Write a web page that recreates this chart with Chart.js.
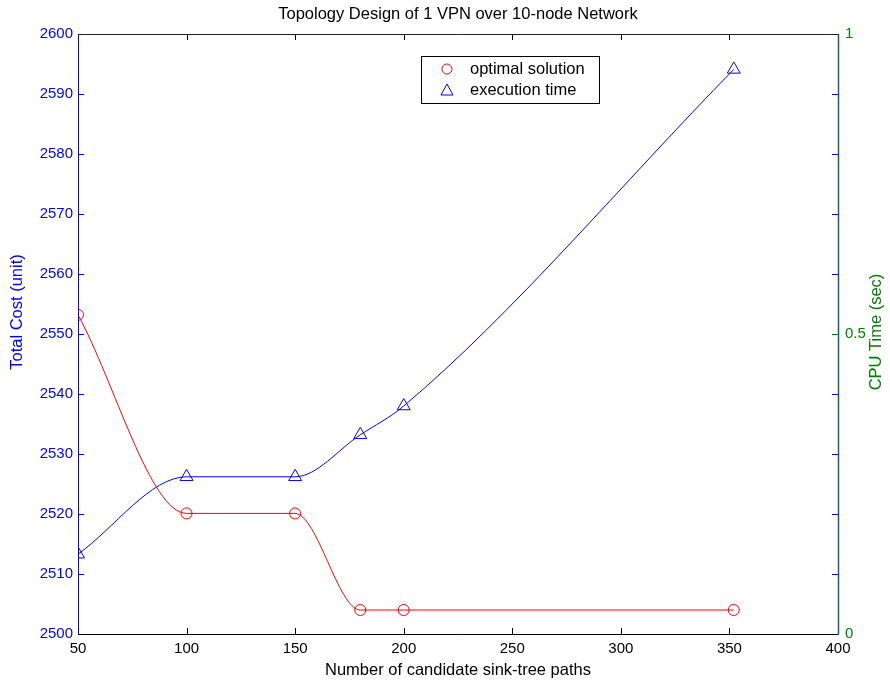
<!DOCTYPE html>
<html>
<head>
<meta charset="utf-8">
<script src="https://cdn.jsdelivr.net/npm/chart.js@4/dist/chart.umd.min.js"></script>
<style>
  html, body { margin: 0; padding: 0; background: #fff; }
  #wrap { width: 890px; height: 683px; }
</style>
</head>
<body>
<div id="wrap"><canvas id="c" width="890" height="683"></canvas></div>
<script>
// Datos
const paths = [50, 100, 150, 180, 200, 352];
const totalCost = [2553.2, 2520.1, 2520.1, 2504, 2504, 2504];
const cpuTime = [0.133, 0.262, 0.262, 0.332, 0.38, 0.941];

const TITLE = 'Topology Design of 1 VPN over 10-node Network';
const BLUE = '#0000ff';
const RED = '#ff0000';
const GREEN = '#008000';
const FONT = '"Liberation Sans", Arial, sans-serif';

// Ejes estilo MATLAB: caja, marcas hacia dentro, títulos y leyenda interior
const matlabAxes = {
  id: 'matlabAxes',
  afterDatasetsDraw(chart) {
    const { ctx, chartArea: a, scales } = chart;
    const T = 6;
    ctx.save();
    ctx.lineWidth = 1;

    // marcas del eje x (abajo y arriba)
    ctx.strokeStyle = '#000';
    scales.x.ticks.forEach(t => {
      const x = Math.round(scales.x.getPixelForValue(t.value)) + 0.5;
      ctx.beginPath();
      ctx.moveTo(x, a.bottom); ctx.lineTo(x, a.bottom - T);
      ctx.moveTo(x, a.top); ctx.lineTo(x, a.top + T);
      ctx.stroke();
    });
    // marcas del eje izquierdo (repetidas a la derecha)
    ctx.strokeStyle = BLUE;
    scales.y.ticks.forEach(t => {
      const y = Math.round(scales.y.getPixelForValue(t.value)) + 0.5;
      ctx.beginPath();
      ctx.moveTo(a.left, y); ctx.lineTo(a.left + T, y);
      ctx.moveTo(a.right, y); ctx.lineTo(a.right - T, y);
      ctx.stroke();
    });
    // marcas del eje derecho
    ctx.strokeStyle = GREEN;
    scales.y1.ticks.forEach(t => {
      const y = Math.round(scales.y1.getPixelForValue(t.value)) + 0.5;
      ctx.beginPath();
      ctx.moveTo(a.right, y); ctx.lineTo(a.right - T, y);
      ctx.stroke();
    });

    // caja
    const L = Math.round(a.left) + 0.5, R = Math.round(a.right) + 0.5;
    const Tp = Math.round(a.top) + 0.5, B = Math.round(a.bottom) + 0.5;
    ctx.strokeStyle = '#222';
    ctx.beginPath(); ctx.moveTo(L, Tp); ctx.lineTo(R, Tp); ctx.stroke();
    ctx.strokeStyle = '#000';
    ctx.beginPath(); ctx.moveTo(L, B); ctx.lineTo(R, B); ctx.stroke();
    ctx.strokeStyle = BLUE;
    ctx.beginPath(); ctx.moveTo(L, Tp); ctx.lineTo(L, B); ctx.stroke();
    ctx.strokeStyle = '#1d5a7c';
    ctx.lineWidth = 1.5;
    ctx.beginPath(); ctx.moveTo(R, Tp); ctx.lineTo(R, B); ctx.stroke();

    // título centrado sobre el área del gráfico
    ctx.textAlign = 'center';
    ctx.textBaseline = 'middle';
    ctx.font = '16.5px ' + FONT;
    ctx.fillStyle = '#000';
    ctx.fillText(TITLE, (a.left + a.right) / 2, 14);

    // títulos de los ejes y (girados hacia arriba)
    ctx.save();
    ctx.translate(17, a.top + 278); ctx.rotate(-Math.PI / 2);
    ctx.fillStyle = BLUE; ctx.fillText('Total Cost (unit)', 0, 0);
    ctx.restore();
    ctx.save();
    ctx.translate(876, a.top + 298); ctx.rotate(-Math.PI / 2);
    ctx.fillStyle = GREEN; ctx.fillText('CPU Time (sec)', 0, 0);
    ctx.restore();

    // leyenda
    const lx = a.left + 343, ly = a.top + 22, lw = 178, lh = 47;
    ctx.lineWidth = 1;
    ctx.fillStyle = '#fff';
    ctx.fillRect(lx, ly, lw, lh);
    ctx.strokeStyle = '#000';
    ctx.strokeRect(lx + 0.5, ly + 0.5, lw, lh);
    ctx.textAlign = 'left';
    chart.data.datasets.forEach((ds, i) => {
      const cy = ly + 13 + i * 21;
      ctx.strokeStyle = ds.borderColor;
      ctx.beginPath();
      if (ds.pointStyle === 'triangle') {
        ctx.moveTo(lx + 26, cy - 6); ctx.lineTo(lx + 32, cy + 5); ctx.lineTo(lx + 20, cy + 5); ctx.closePath();
      } else {
        ctx.arc(lx + 26, cy, 5, 0, Math.PI * 2);
      }
      ctx.stroke();
      ctx.fillStyle = '#000';
      ctx.fillText(ds.label, lx + 49, cy);
    });
    ctx.restore();
  },
};

const plain = v => String(v);
const noGrid = { display: false, drawTicks: false, tickLength: 0 };

new Chart(document.getElementById('c'), {
  type: 'line',
  data: {
    datasets: [{
      label: 'optimal solution',
      data: paths.map((x, i) => ({ x, y: totalCost[i] })),
      yAxisID: 'y',
      borderColor: RED, backgroundColor: 'transparent',
      borderWidth: 1, cubicInterpolationMode: 'monotone',
      pointStyle: 'circle', pointRadius: 5.5, pointBorderWidth: 1,
      pointBorderColor: RED, pointBackgroundColor: 'rgba(0,0,0,0)',
    }, {
      label: 'execution time',
      data: paths.map((x, i) => ({ x, y: cpuTime[i] })),
      yAxisID: 'y1',
      borderColor: BLUE, backgroundColor: 'transparent',
      borderWidth: 1, cubicInterpolationMode: 'monotone',
      pointStyle: 'triangle', pointRadius: 7.5, pointBorderWidth: 1,
      pointBorderColor: BLUE, pointBackgroundColor: 'rgba(0,0,0,0)',
    }],
  },
  options: {
    responsive: false, animation: false,
    layout: { padding: { top: 34 } },
    plugins: {
      legend: { display: false },
      tooltip: { enabled: false },
      title: { display: false },
    },
    scales: {
      x: {
        type: 'linear', min: 50, max: 400,
        grid: noGrid, border: { display: false },
        ticks: { stepSize: 50, color: '#000', padding: 6, font: { family: FONT, size: 15 }, callback: plain },
        title: { display: true, text: 'Number of candidate sink-tree paths', color: '#000',
          font: { family: FONT, size: 16.5, lineHeight: 1.2 }, padding: 3 },
        afterFit: s => { s.height = 49; },
      },
      y: {
        position: 'left', min: 2500, max: 2600,
        grid: noGrid, border: { display: false },
        ticks: { stepSize: 10, color: BLUE, padding: 5, font: { family: FONT, size: 15 }, callback: plain },
        afterFit: s => { s.width = 78; },
      },
      y1: {
        position: 'right', min: 0, max: 1,
        grid: noGrid, border: { display: false },
        ticks: { stepSize: 0.5, color: GREEN, padding: 7, font: { family: FONT, size: 15 }, callback: plain },
        afterFit: s => { s.width = 52; },
      },
    },
  },
  plugins: [matlabAxes],
});
</script>
</body>
</html>
